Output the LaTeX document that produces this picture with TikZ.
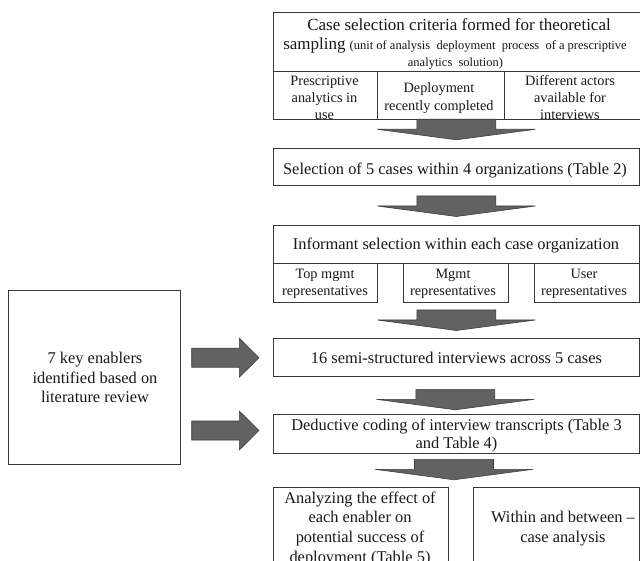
\documentclass[tikz,border=0pt]{standalone}
\usepackage{fontspec}
\setmainfont{Liberation Serif}
\usetikzlibrary{calc}
\definecolor{arrfill}{RGB}{98,98,98}
\definecolor{arrline}{RGB}{62,62,62}
\definecolor{boxline}{RGB}{55,55,55}
\definecolor{ink}{RGB}{25,25,25}
\tikzset{
  box/.style={draw=boxline, line width=0.9pt, rectangle, inner sep=0pt, fill=white, anchor=north west},
  txt/.style={text=ink, align=center, inner sep=0pt, font=\fontsize{16.4}{19.7}\selectfont},
  subtxt/.style={txt, font=\fontsize{14.3}{17.4}\selectfont},
  blockarrow/.style={fill=arrfill, draw=arrline, line width=0.6pt, line join=miter},
  pics/downarr/.style={code={\draw[blockarrow] (-39.5,0) -- (39.5,0) -- (39.5,10) -- (79,10) -- (0,20.5) -- (-79,10) -- (-39.5,10) -- cycle;}},
  pics/rightarr/.style={code={\draw[blockarrow] (0,-9.5) -- (47.6,-9.5) -- (47.6,-19.5) -- (67.3,0) -- (47.6,19.5) -- (47.6,9.5) -- (0,9.5) -- cycle;}},
}
\begin{document}
\begin{tikzpicture}[x=1pt,y=-1pt]
\useasboundingbox (0,0) rectangle (640,561);
\clip (0,0) rectangle (640,561);
\fill[white] (0,0) rectangle (640,561);

% boxes
\node[box, minimum width=366.8pt, minimum height=59pt] (hdr) at (272.7,12) {};
\node[box, minimum width=104pt, minimum height=48.5pt] (c1) at (272.7,71) {};
\node[box, minimum width=127.3pt, minimum height=48.5pt] (c2) at (376.7,71) {};
\node[box, minimum width=135.5pt, minimum height=48.5pt] (c3) at (504,71) {};
\node[box, minimum width=365.8pt, minimum height=37pt] (sel) at (272.7,148) {};
\node[box, minimum width=365.8pt, minimum height=38.3pt] (inf) at (272.7,225) {};
\node[box, minimum width=104pt, minimum height=38.4pt] (i1) at (272.7,263.3) {};
\node[box, minimum width=104.4pt, minimum height=38.4pt] (i2) at (403.3,263.3) {};
\node[box, minimum width=104.2pt, minimum height=38.4pt] (i3) at (534.3,263.3) {};
\node[box, minimum width=366.3pt, minimum height=38pt] (semi) at (272.7,338.3) {};
\node[box, minimum width=366.3pt, minimum height=38.7pt] (ded) at (272.7,414) {};
\node[box, minimum width=175pt, minimum height=100pt] (an) at (272.5,486.7) {};
\node[box, minimum width=166.3pt, minimum height=100pt] (wb) at (473,486.7) {};
\node[box, minimum width=171.7pt, minimum height=174.3pt] (lit) at (8.3,290) {};

% texts
\node[txt, anchor=base, font=\fontsize{17}{20}\selectfont] (h1) at (459,30.7) {Case selection criteria formed for theoretical};
\node[txt, anchor=base] (h2) at (455,49.3) {{\fontsize{17}{20}\selectfont sampling} {\fontsize{12.5}{15}\selectfont (unit of analysis\ \ deployment\ \ process\ \ of a prescriptive}};
\node[txt, anchor=base, font=\fontsize{12.5}{15}\selectfont] (h3) at (455.5,66.7) {analytics\ \ solution)};

\node[subtxt, anchor=north] (c1t) at (324.5,72.8) {\strut Prescriptive\\analytics in\\use};
\node[subtxt, anchor=north] (c2t) at (439,80.5) {\strut Deployment\\recently completed};
\node[subtxt, anchor=north] (c3t) at (570,72.8) {\strut Different actors\\available for\\interviews};

\node[txt, anchor=base] (selt) at (455,175) {Selection of 5 cases within 4 organizations (Table 2)};
\node[txt, anchor=base] (inft) at (456,249.3) {Informant selection within each case organization};

\node[subtxt, anchor=north] (i1t) at (325,266.1) {\strut Top mgmt\\representatives};
\node[subtxt, anchor=north] (i2t) at (453,266.1) {\strut Mgmt\\representatives};
\node[subtxt, anchor=north] (i3t) at (584,266.1) {\strut User\\representatives};

\node[txt, anchor=base] (semit) at (456.5,363.3) {16 semi-structured interviews across 5 cases};
\node[txt, anchor=north, font=\fontsize{16.4}{18.3}\selectfont] (dedt) at (456.5,417.2) {\strut Deductive coding of interview transcripts (Table 3\\and Table 4)};
\node[txt, anchor=north] (ant) at (360,489.2) {\strut Analyzing the effect of\\each enabler on\\potential success of\\deployment (Table 5)};
\node[txt, anchor=north] (wbt) at (563,508.9) {\strut Within and between --\\case analysis};
\node[txt, anchor=north] (litt) at (95,349.5) {\strut 7 key enablers\\identified based on\\literature review};

% block arrows
\coordinate (a1) at (456.3,119.3);
\coordinate (a2) at (456.3,196);
\coordinate (a3) at (456.3,310);
\coordinate (a4) at (455.3,389.3);
\coordinate (a5) at (454,459.3);
\coordinate (r1) at (191.7,357.7);
\coordinate (r2) at (191.7,430.5);
\pic at (a1) {downarr};
\pic at (a2) {downarr};
\pic at (a3) {downarr};
\pic at (a4) {downarr};
\pic at (a5) {downarr};
\pic at (r1) {rightarr};
\pic at (r2) {rightarr};
\end{tikzpicture}
\end{document}
